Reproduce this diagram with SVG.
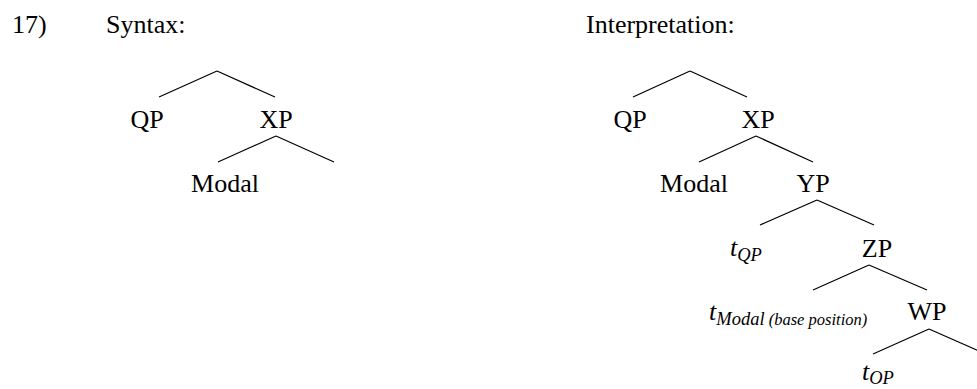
<svg xmlns="http://www.w3.org/2000/svg" width="977" height="389" viewBox="0 0 977 389">
<style>
text { font-size: 26px; fill: #000; }
.c { text-anchor: middle; }
.it { font-style: italic; }
.sub { font-size: 18.5px; font-style: italic; }
.sub2 { font-size: 16.5px; font-style: italic; }
line { stroke: #000; stroke-width: 1.2; }
</style>
<rect width="977" height="389" fill="#fff"/>
<g font-family="'Liberation Serif', 'DejaVu Serif', serif">
<g id="labels">
<text x="12" y="33">17)</text>
<text x="106" y="33">Syntax:</text>
<text x="586" y="33">Interpretation:</text>
</g>
<g id="connectors">
<line x1="217" y1="71" x2="159" y2="97"/>
<line x1="217" y1="71" x2="275" y2="97"/>
<line x1="276" y1="136" x2="218" y2="162"/>
<line x1="276" y1="136" x2="334" y2="162"/>
<line x1="690" y1="71" x2="633" y2="97"/>
<line x1="690" y1="71" x2="747" y2="97"/>
<line x1="756" y1="136" x2="699" y2="162"/>
<line x1="756" y1="136" x2="813" y2="162"/>
<line x1="817" y1="200" x2="760" y2="225"/>
<line x1="817" y1="200" x2="874" y2="225"/>
<line x1="869" y1="265" x2="813" y2="290"/>
<line x1="869" y1="265" x2="927" y2="290"/>
<line x1="929" y1="329" x2="873" y2="354"/>
<line x1="929" y1="329" x2="986" y2="354"/>
</g>
<g id="syn-QP"><text class="c" x="147" y="128">QP</text></g>
<g id="syn-XP"><text class="c" x="276" y="128">XP</text></g>
<g id="syn-Modal"><text class="c" x="225" y="192">Modal</text></g>
<g id="int-QP"><text class="c" x="630" y="128">QP</text></g>
<g id="int-XP"><text class="c" x="758" y="128">XP</text></g>
<g id="int-Modal"><text class="c" x="694" y="192">Modal</text></g>
<g id="int-YP"><text class="c" x="813" y="192">YP</text></g>
<g id="int-tQP"><text x="730" y="256"><tspan class="it">t</tspan><tspan class="sub" dy="5">QP</tspan></text></g>
<g id="int-ZP"><text class="c" x="877" y="257">ZP</text></g>
<g id="int-tModal"><text x="709" y="320"><tspan class="it">t</tspan><tspan class="sub" dy="5">Modal</tspan><tspan class="sub2"> (base position)</tspan></text></g>
<g id="int-WP"><text class="c" x="927" y="320">WP</text></g>
<g id="int-tOP"><text x="862" y="380"><tspan class="it">t</tspan><tspan class="sub" dy="4">OP</tspan></text></g>
</g>
</svg>
